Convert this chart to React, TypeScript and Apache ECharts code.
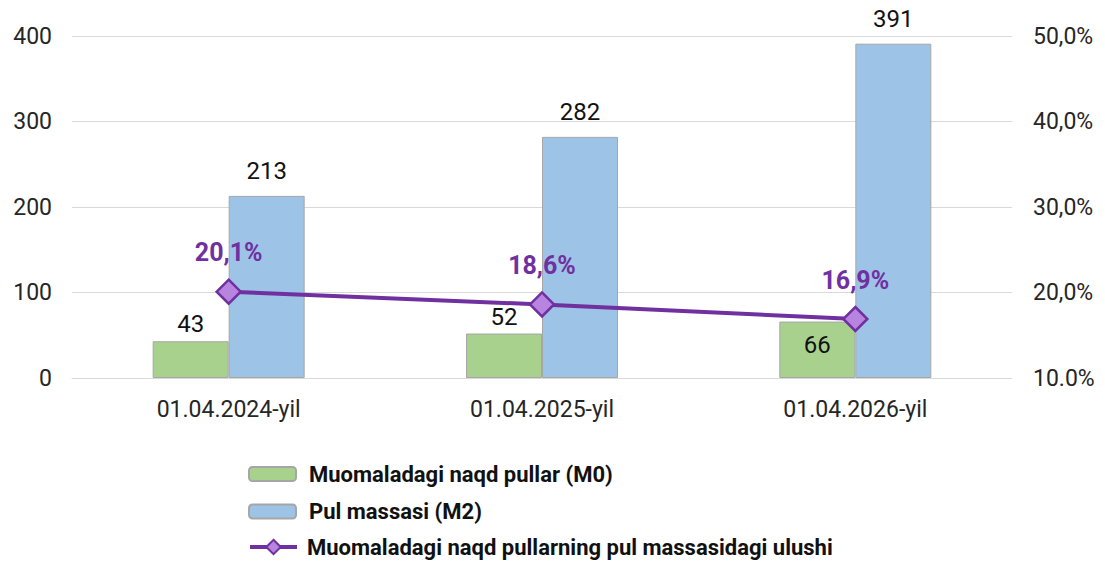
import React, { useEffect, useRef } from "react";
import * as echarts from "echarts";

const categories = ["01.04.2024-yil", "01.04.2025-yil", "01.04.2026-yil"];
const m0Values = [43, 52, 66];
const m2Values = [213, 282, 391];
const shareValues = [20.1, 18.6, 16.9];
const shareLabels = ["20,1%", "18,6%", "16,9%"];
const seriesNames = [
  "Muomaladagi naqd pullar (M0)",
  "Pul massasi (M2)",
  "Muomaladagi naqd pullarning pul massasidagi ulushi",
];

export default function App() {
  const ref = useRef<HTMLDivElement>(null);
  useEffect(() => {
    if (!ref.current) return;
    const chart = echarts.init(ref.current, null, { renderer: "svg" });
    const font = "Roboto";
    const legendTops = [458, 495.5, 531];
    const legendText = {
      fontFamily: font,
      fontSize: 22,
      fontWeight: "bold",
      color: "#111",
      padding: [0, 0, 0, 8],
    };
    chart.setOption({
      animation: false,
      textStyle: { fontFamily: font },
      grid: { left: 72, right: 93, top: 36, bottom: 184 },
      legend: [
        {
          orient: "vertical",
          left: 243,
          top: legendTops[0],
          itemWidth: 47,
          itemHeight: 14,
          textStyle: legendText,
          data: [seriesNames[0]],
        },
        {
          orient: "vertical",
          left: 243,
          top: legendTops[1],
          itemWidth: 47,
          itemHeight: 14,
          textStyle: legendText,
          data: [seriesNames[1]],
        },
        {
          orient: "vertical",
          left: 243,
          top: legendTops[2],
          itemWidth: 47,
          itemHeight: 18,
          lineStyle: { width: 4, color: "#7030a0" },
          itemStyle: { color: "#b784e0", borderColor: "#7030a0", borderWidth: 2 },
          textStyle: { ...legendText, padding: [0, 0, 0, 5] },
          data: [seriesNames[2]],
        },
      ],
      xAxis: {
        type: "category",
        data: categories,
        axisLine: { show: true, lineStyle: { color: "#d9d9d9", width: 1 } },
        axisTick: { show: false },
        axisLabel: { fontSize: 23, color: "#262626", margin: 20, fontFamily: font },
      },
      yAxis: [
        {
          type: "value",
          min: 0,
          max: 400,
          interval: 100,
          axisLine: { show: false },
          axisTick: { show: false },
          splitLine: { lineStyle: { color: "#d9d9d9", width: 1 } },
          axisLabel: { fontSize: 23, color: "#262626", margin: 20, fontFamily: font },
        },
        {
          type: "value",
          min: 10,
          max: 50,
          interval: 10,
          axisLine: { show: false },
          axisTick: { show: false },
          splitLine: { show: false },
          axisLabel: {
            fontSize: 23,
            color: "#262626",
            margin: 21,
            fontFamily: font,
            formatter: (v: number) => (v === 10 ? "10.0%" : v + ",0%"),
          },
        },
      ],
      series: [
        {
          name: seriesNames[0],
          type: "bar",
          data: m0Values.map((v, i) =>
            i === 2
              ? { value: v, label: { position: "insideTop", distance: 11 } }
              : v
          ),
          barWidth: 76,
          barGap: "0%",
          itemStyle: { color: "#a9d18e", borderColor: "#a6a6a6", borderWidth: 1 },
          label: {
            show: true,
            position: "top",
            distance: 5,
            fontSize: 24,
            color: "#111",
            fontFamily: font,
          },
        },
        {
          name: seriesNames[1],
          type: "bar",
          data: m2Values,
          barWidth: 76,
          barGap: "0%",
          itemStyle: { color: "#9dc3e6", borderColor: "#a6a6a6", borderWidth: 1 },
          label: {
            show: true,
            position: "top",
            distance: 13,
            fontSize: 24,
            color: "#111",
            fontFamily: font,
          },
        },
        {
          name: seriesNames[2],
          type: "line",
          yAxisIndex: 1,
          data: shareValues,
          symbol: "diamond",
          symbolSize: 24,
          lineStyle: { color: "#7030a0", width: 4 },
          itemStyle: { color: "#b784e0", borderColor: "#7030a0", borderWidth: 2.5 },
          label: {
            show: true,
            position: "top",
            distance: 13,
            fontSize: 25,
            fontWeight: "bold",
            color: "#7030a0",
            fontFamily: font,
            formatter: (p: any) => shareLabels[p.dataIndex],
          },
          z: 5,
        },
      ],
    });
    return () => chart.dispose();
  }, []);
  return <div ref={ref} style={{ width: 1105, height: 562, position: "absolute", left: 0, top: 0 }} />;
}
